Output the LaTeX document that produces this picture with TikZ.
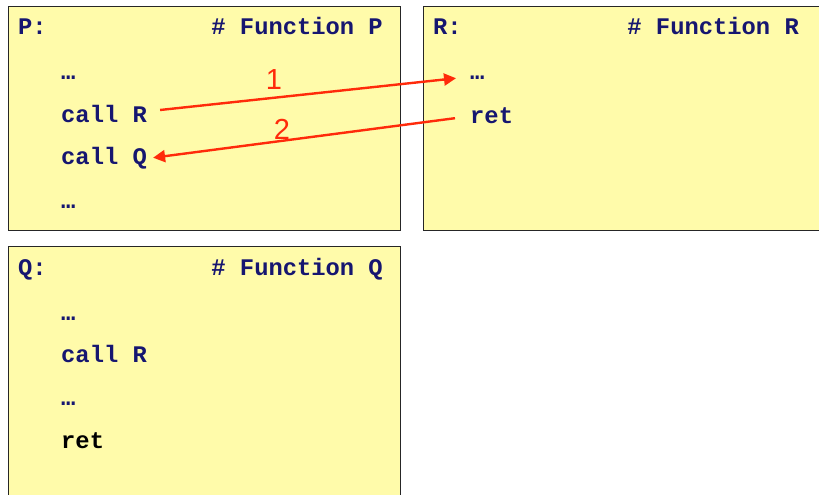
\documentclass[tikz,border=0pt]{standalone}
\usepackage{fontspec}
\setmainfont{Liberation Sans}
\setmonofont{Liberation Mono}
\usetikzlibrary{arrows.meta}
\definecolor{pale}{RGB}{255,251,170}
\definecolor{navy}{RGB}{22,22,112}
\definecolor{callred}{RGB}{255,42,10}
\begin{document}
\begin{tikzpicture}[x=1pt, y=-1pt,
    func/.style={draw=black!85, line width=1pt, fill=pale, anchor=north west, minimum width=392pt, minimum height=224pt},
    code/.style={anchor=base west, inner sep=0pt, text=navy, font=\ttfamily\bfseries\fontsize{23.8}{24}\selectfont},
    num/.style={text=callred, inner sep=0pt, font=\fontsize{29}{29}\selectfont},
    flow/.style={draw=callred, line width=2.4pt, -{Triangle[length=12pt,width=12pt]}}
]
\useasboundingbox (0,0) rectangle (819,495);
\node[func] (pbox) at (8,6) {};
\node[func, minimum width=410pt] (rbox) at (423,6) {};
\node[func, minimum height=260pt] (qbox) at (8,246) {};

% function P
\node[code] (phead) at (18,35) {P:};
\node[code, anchor=base east] (pname) at (383,35) {\# Function P};
\node[code] (pdots) at (61,79) {…};
\node[code] (pcallr) at (61,122) {call R};
\node[code] (pcallq) at (61,164) {call Q};
\node[code] (pend) at (61,208) {…};

% function R
\node[code] (rhead) at (433,35) {R:};
\node[code, anchor=base east] (rname) at (799,35) {\# Function R};
\node[code] (rdots) at (470,80) {…};
\node[code] (rret) at (470,123) {ret};

% function Q
\node[code] (qhead) at (18,275) {Q:};
\node[code, anchor=base east] (qname) at (383,275) {\# Function Q};
\node[code] (qdots) at (61,320) {…};
\node[code] (qcallr) at (61,362) {call R};
\node[code] (qend) at (61,405) {…};
\node[code, text=black] (qret) at (61,448) {ret};

% call and return
\draw[flow] ([shift={(13,-3.5)}]pcallr.east) -- ([xshift=-14]rdots.west);
\draw[flow] ([shift={(-15,3)}]rret.west) -- ([xshift=6]pcallq.east);
\node[num] (one) at (274,80) {1};
\node[num] (two) at (282,129) {2};
\end{tikzpicture}
\end{document}
